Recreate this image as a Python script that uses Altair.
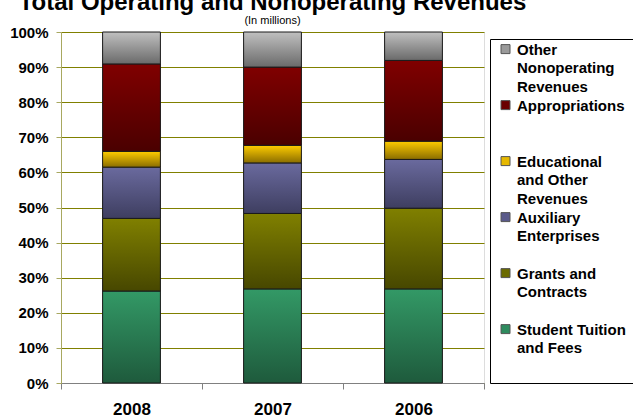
import altair as alt
import pandas as pd

years = ["2008", "2007", "2006"]
series = [
    "Student Tuition and Fees",
    "Grants and Contracts",
    "Auxiliary Enterprises",
    "Educational and Other Revenues",
    "Appropriations",
    "Other Nonoperating Revenues",
]
student = [26.2, 26.8, 26.8]
grants = [20.7, 21.5, 23.0]
auxiliary = [14.6, 14.4, 13.9]
educational = [4.5, 5.0, 5.2]
appropriations = [24.9, 22.3, 23.0]
other = [9.1, 10.0, 8.1]
y_ticks = [0.0, 0.1, 0.2, 0.3, 0.4, 0.5, 0.6, 0.7, 0.8, 0.9, 1.0]

solid = ["#2e8b5e", "#6b6b00", "#5a5a8a", "#e6b800", "#6a0000", "#9a9a9a"]
grad_top = ["#339966", "#808000", "#6a6a9e", "#ffcc00", "#800000", "#c0c0c0"]
grad_bot = ["#1e5a3c", "#474700", "#3e3e60", "#8a6d00", "#4a0000", "#6a6a6a"]

legend_lines = {
    "Other Nonoperating Revenues": ["Other", "Nonoperating", "Revenues"],
    "Appropriations": ["Appropriations", " ", " "],
    "Educational and Other Revenues": ["Educational", "and Other", "Revenues"],
    "Auxiliary Enterprises": ["Auxiliary", "Enterprises", " "],
    "Grants and Contracts": ["Grants and", "Contracts", " "],
    "Student Tuition and Fees": ["Student Tuition", "and Fees", " "],
}

cols = [student, grants, auxiliary, educational, appropriations, other]
rows = []
for yi, y in enumerate(years):
    for si, s in enumerate(series):
        rows.append({"year": y, "series": s, "idx": si, "value": cols[si][yi]})
df = pd.DataFrame(rows)

expr = ""
for s, lines in legend_lines.items():
    arr = "[" + ",".join("'" + l + "'" for l in lines) + "]"
    expr += f"datum.value == '{s}' ? {arr} : "
expr += "datum.label"

FONT = "Liberation Sans"

base = alt.Chart(df).transform_stack(
    stack="value", as_=["y0", "y1"], groupby=["year"],
    sort=[alt.SortField("idx", order="ascending")], offset="normalize"
)

x_axis = alt.Axis(labelAngle=0, labelFontSize=17, labelFontWeight="bold",
                  labelFont=FONT, labelColor="#000000", labelPadding=12,
                  tickBand="extent", tickSize=6, tickColor="#808080",
                  domainColor="#808080", grid=False)
y_axis = alt.Axis(values=y_ticks, format=".0%", labelOverlap=False,
                  labelFontSize=15, labelFontWeight="bold", labelFont=FONT,
                  labelColor="#000000", labelPadding=8, tickSize=5,
                  tickColor="#a8a860", domainColor="#a8a860",
                  gridColor="#808000", gridWidth=1)
x_scale = alt.Scale(paddingInner=0, paddingOuter=0)
y_scale = alt.Scale(domain=[0, 1], nice=False)


def enc_x():
    return alt.X("year:N", sort=years, title=None, scale=x_scale, axis=x_axis)


def enc_y():
    return alt.Y("y0:Q", title=None, scale=y_scale, axis=y_axis)


legend_order = list(reversed(series))
base_layer = base.mark_bar(width=alt.RelativeBandSize(0.41)).encode(
    x=enc_x(), y=enc_y(), y2="y1:Q",
    color=alt.Color("series:N",
                    scale=alt.Scale(domain=legend_order, range=list(reversed(solid))),
                    legend=alt.Legend(title=None, orient="none", legendX=429, legendY=7,
                                      labelExpr=expr, labelFontSize=15, labelFont=FONT,
                                      labelFontWeight="bold", labelColor="#000000",
                                      labelBaseline="alphabetic", labelLimit=300,
                                      symbolType="M-1,-2.2H1V-0.2H-1Z", symbolSize=81,
                                      symbolStrokeColor="#555555", symbolStrokeWidth=1,
                                      fillColor="#ffffff", strokeColor="#000000",
                                      padding=8, rowPadding=3, labelOffset=4)),
)

layers = [base_layer]
for i, s in enumerate(series):
    g = alt.Gradient(gradient="linear", x1=0, x2=0, y1=0, y2=1,
                     stops=[alt.GradientStop(offset=0, color=grad_top[i]),
                            alt.GradientStop(offset=1, color=grad_bot[i])])
    layers.append(
        base.transform_filter(alt.datum.series == s)
        .mark_bar(width=alt.RelativeBandSize(0.41), fill=g, stroke="#1a1a1a", strokeWidth=1)
        .encode(x=enc_x(), y=enc_y(), y2="y1:Q")
    )

chart = alt.layer(*layers).properties(
    width=423, height=351,
    autosize=alt.AutoSizeParams(type="none"),
    padding={"left": 61, "top": 32, "right": 149, "bottom": 34},
    title=alt.TitleParams(
        text="Total Operating and Nonoperating Revenues",
        subtitle="(In millions)",
        fontSize=24, font=FONT, fontWeight="bold", color="#000000",
        baseline="line-top", lineHeight=28,
        subtitleFontSize=11, subtitleFont=FONT, subtitleColor="#000000",
        subtitlePadding=1, anchor="middle", offset=1,
    ),
).configure_view(stroke=None).configure(
    style={"guide-label": {"lineHeight": 18.5}}
)

chart.save("out.html", embed_options={"renderer": "svg", "actions": False})
